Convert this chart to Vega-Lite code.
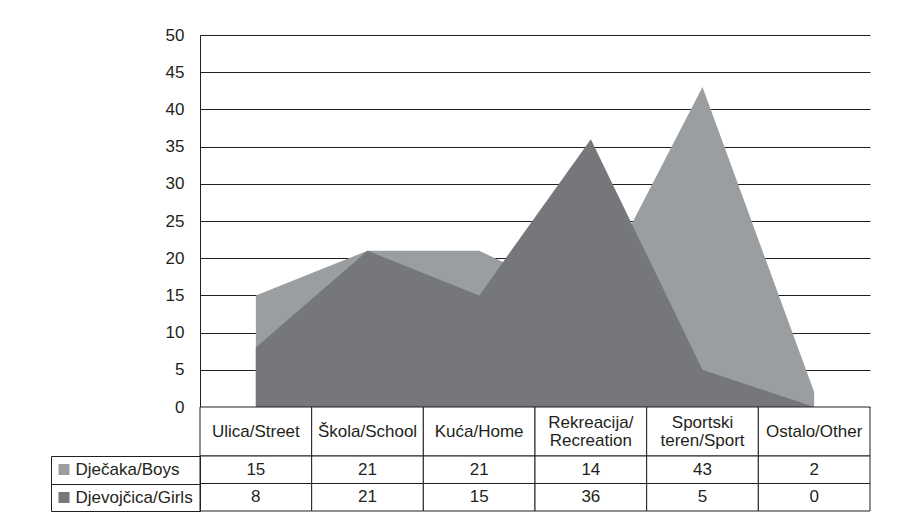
{
  "$schema": "https://vega.github.io/schema/vega-lite/v6.json",
  "autosize": {"type": "pad"},
  "padding": {"left": 45, "top": 26, "right": 5, "bottom": 5},
  "background": "white",
  "config": {
    "view": {"stroke": null},
    "font": "Liberation Sans",
    "text": {"font": "Liberation Sans"}
  },
  "spacing": 0,
  "bounds": "flush",
  "resolve": {"scale": {"x": "independent", "y": "independent"}},
  "datasets": {
    "d": [
      {"cat": "Ulica/Street", "series": "Dječaka/Boys", "value": 15},
      {"cat": "Škola/School", "series": "Dječaka/Boys", "value": 21},
      {"cat": "Kuća/Home", "series": "Dječaka/Boys", "value": 21},
      {"cat": "Rekreacija/Recreation", "series": "Dječaka/Boys", "value": 14},
      {"cat": "Sportski teren/Sport", "series": "Dječaka/Boys", "value": 43},
      {"cat": "Ostalo/Other", "series": "Dječaka/Boys", "value": 2},
      {"cat": "Ulica/Street", "series": "Djevojčica/Girls", "value": 8},
      {"cat": "Škola/School", "series": "Djevojčica/Girls", "value": 21},
      {"cat": "Kuća/Home", "series": "Djevojčica/Girls", "value": 15},
      {"cat": "Rekreacija/Recreation", "series": "Djevojčica/Girls", "value": 36},
      {"cat": "Sportski teren/Sport", "series": "Djevojčica/Girls", "value": 5},
      {"cat": "Ostalo/Other", "series": "Djevojčica/Girls", "value": 0}
    ],
    "cats": [
      {"cat": "Ulica/Street", "label": "Ulica/Street", "lines": 1},
      {"cat": "Škola/School", "label": "Škola/School", "lines": 1},
      {"cat": "Kuća/Home", "label": "Kuća/Home", "lines": 1},
      {"cat": "Rekreacija/Recreation", "label": "Rekreacija/\nRecreation", "lines": 2},
      {"cat": "Sportski teren/Sport", "label": "Sportski\nteren/Sport", "lines": 2},
      {"cat": "Ostalo/Other", "label": "Ostalo/Other", "lines": 1}
    ]
  },
  "vconcat": [
    {
      "width": 670,
      "height": 372,
      "data": {"name": "d"},
      "encoding": {
        "x": {
          "field": "cat", "type": "nominal",
          "sort": ["Ulica/Street", "Škola/School", "Kuća/Home", "Rekreacija/Recreation", "Sportski teren/Sport", "Ostalo/Other"],
          "scale": {"type": "point", "padding": 0.5},
          "axis": null
        },
        "y": {
          "field": "value", "type": "quantitative",
          "scale": {"domain": [0, 50], "nice": false, "zero": true},
          "axis": {
            "title": null,
            "values": [0, 5, 10, 15, 20, 25, 30, 35, 40, 45, 50],
            "grid": true, "gridColor": "#231f20", "gridOpacity": 1, "gridWidth": 1,
            "ticks": false,
            "domain": true, "domainColor": "#231f20", "domainWidth": 1,
            "labelFontSize": 17, "labelColor": "#231f20", "labelPadding": 16,
            "labelFont": "Liberation Sans"
          }
        }
      },
      "layer": [
        {
          "transform": [{"filter": "datum.series === 'Dječaka/Boys'"}],
          "mark": {"type": "area", "color": "#9b9ea1", "opacity": 1}
        },
        {
          "transform": [{"filter": "datum.series === 'Djevojčica/Girls'"}],
          "mark": {"type": "area", "color": "#76777b", "opacity": 1}
        }
      ]
    },
    {
      "width": 670,
      "height": 49,
      "data": {"name": "cats"},
      "encoding": {
        "x": {
          "field": "cat", "type": "nominal",
          "sort": ["Ulica/Street", "Škola/School", "Kuća/Home", "Rekreacija/Recreation", "Sportski teren/Sport", "Ostalo/Other"],
          "scale": {"type": "band", "paddingInner": 0, "paddingOuter": 0},
          "axis": null
        }
      },
      "layer": [
        {"mark": {"type": "rect", "fill": "white", "stroke": "#231f20", "strokeWidth": 1}},
        {
          "transform": [{"filter": "datum.lines === 1"}],
          "mark": {"type": "text", "fontSize": 17, "color": "#231f20", "baseline": "middle"},
          "encoding": {"text": {"field": "label"}}
        },
        {
          "transform": [{"filter": "datum.lines === 2"}],
          "mark": {"type": "text", "fontSize": 17, "color": "#231f20", "lineBreak": "\n", "lineHeight": 18, "baseline": "middle", "dy": -9},
          "encoding": {"text": {"field": "label"}}
        }
      ]
    },
    {
      "width": 670,
      "height": 55,
      "data": {"name": "d"},
      "encoding": {
        "x": {
          "field": "cat", "type": "nominal",
          "sort": ["Ulica/Street", "Škola/School", "Kuća/Home", "Rekreacija/Recreation", "Sportski teren/Sport", "Ostalo/Other"],
          "scale": {"type": "band", "paddingInner": 0, "paddingOuter": 0},
          "axis": null
        }
      },
      "layer": [
        {
          "mark": {"type": "rect", "fill": "white", "stroke": "#231f20", "strokeWidth": 1},
          "encoding": {
            "y": {
              "field": "series", "type": "nominal",
              "sort": ["Dječaka/Boys", "Djevojčica/Girls"],
              "scale": {"type": "band", "paddingInner": 0, "paddingOuter": 0},
              "axis": {
                "orient": "left", "title": null,
                "domain": true, "domainColor": "#231f20",
                "ticks": true, "tickBand": "extent", "tickSize": 149, "tickColor": "#231f20", "tickWidth": 1,
                "labelAlign": "left", "labelPadding": -24, "labelFontSize": 17, "labelColor": "#231f20",
                "labelFont": "Liberation Sans"
              }
            }
          }
        },
        {
          "mark": {"type": "text", "fontSize": 17, "color": "#231f20"},
          "encoding": {
            "text": {"field": "value", "type": "quantitative"},
            "y": {
              "field": "series", "type": "nominal",
              "sort": ["Dječaka/Boys", "Djevojčica/Girls"],
              "scale": {"type": "band", "paddingInner": 0, "paddingOuter": 0},
              "axis": {
                "orient": "left", "offset": 149, "title": null,
                "domain": true, "domainColor": "#231f20",
                "ticks": true, "tickSize": -18, "tickWidth": 11, "tickDash": [0, 7, 11, 100],
                "tickColor": {"condition": {"test": "datum.value === 'Djevojčica/Girls'", "value": "#76777b"}, "value": "#9b9ea1"},
                "labels": false
              }
            }
          }
        }
      ],
      "resolve": {"axis": {"y": "independent"}}
    }
  ]
}
